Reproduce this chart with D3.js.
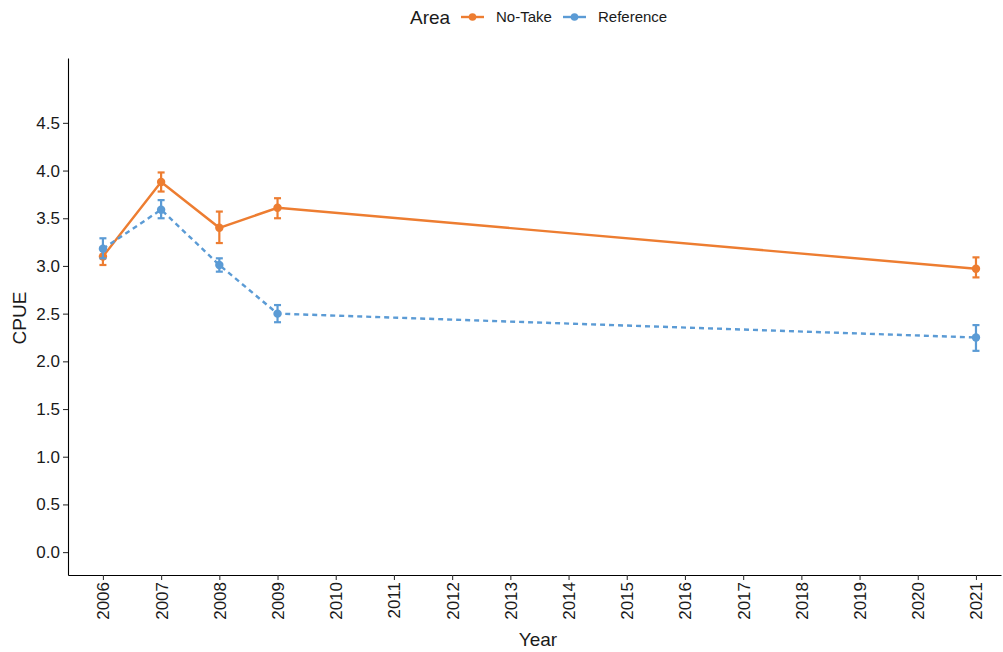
<!DOCTYPE html>
<html>
<head>
<meta charset="utf-8">
<script src="https://cdn.jsdelivr.net/npm/d3@7"></script>
<style>
body { margin: 0; background: #fff; font-family: "Liberation Sans", Arial, sans-serif; }
</style>
</head>
<body>
<div id="chart"></div>
<script>
// data
var years = [2006, 2007, 2008, 2009, 2021];
var yearTicks = d3.range(2006, 2022);
var yTicks = [0, 0.5, 1, 1.5, 2, 2.5, 3, 3.5, 4, 4.5];

var noTake = [3.10, 3.88, 3.40, 3.61, 2.97];
var noTakeLo = [3.01, 3.78, 3.24, 3.50, 2.88];
var noTakeHi = [3.19, 3.98, 3.57, 3.71, 3.09];

var reference = [3.18, 3.59, 3.01, 2.50, 2.25];
var referenceLo = [3.08, 3.50, 2.94, 2.41, 2.11];
var referenceHi = [3.29, 3.69, 3.08, 2.59, 2.38];

var series = [
    {name: "No-Take", color: "#ED7D31", dash: null, v: noTake, lo: noTakeLo, hi: noTakeHi},
    {name: "Reference", color: "#5B9BD5", dash: "5,4", v: reference, lo: referenceLo, hi: referenceHi}
];

var width = 1003, height = 652;
var svg = d3.select("#chart").append("svg")
    .attr("width", width).attr("height", height);

var mLeft = 68, mRight = 1001, mTop = 58, mBottom = 575;

var x = d3.scaleLinear().domain([2005.4, 2021.43]).range([mLeft, mRight]);
var y = d3.scaleLinear().domain([-0.24, 5.18]).range([mBottom, mTop]);

// axes
var xAxis = svg.append("g")
    .attr("transform", "translate(0," + mBottom + ")")
    .call(d3.axisBottom(x).tickValues(yearTicks).tickFormat(d3.format("d")).tickSize(5).tickSizeOuter(0));

var yAxis = svg.append("g")
    .attr("transform", "translate(" + mLeft + ",0)")
    .call(d3.axisLeft(y).tickValues(yTicks).tickFormat(d3.format(".1f")).tickSize(5).tickSizeOuter(0));

[xAxis, yAxis].forEach(function(a) {
    a.select(".domain").attr("stroke", "#000").attr("stroke-width", 1.1);
    a.selectAll(".tick line").attr("stroke", "#333").attr("stroke-width", 1.1);
    a.selectAll(".tick text").attr("fill", "#1a1a1a").style("font-size", "17px")
        .style("font-family", "Liberation Sans, Arial, sans-serif");
});
yAxis.selectAll(".tick text").attr("x", -8);
xAxis.selectAll(".tick text")
    .attr("transform", "rotate(-90)")
    .attr("text-anchor", "end")
    .attr("x", -7).attr("y", 0).attr("dy", "0.35em");

svg.append("text").attr("x", 538).attr("y", 646).attr("text-anchor", "middle")
    .style("font-size", "19px").attr("fill", "#1a1a1a").text("Year");
svg.append("text").attr("transform", "translate(26,318) rotate(-90)").attr("text-anchor", "middle")
    .style("font-size", "19px").attr("fill", "#1a1a1a").text("CPUE");

// lines, error bars, points
var line = d3.line().x(function(d) { return x(d[0]); }).y(function(d) { return y(d[1]); });

series.forEach(function(s) {
    var pts = years.map(function(yr, i) { return [yr, s.v[i]]; });
    svg.append("path").datum(pts)
        .attr("d", line)
        .attr("fill", "none")
        .attr("stroke", s.color)
        .attr("stroke-width", 2.4)
        .attr("stroke-dasharray", s.dash);

    var g = svg.append("g").attr("stroke", s.color).attr("stroke-width", 2.2);
    years.forEach(function(yr, i) {
        var cx = x(yr);
        g.append("line").attr("x1", cx).attr("x2", cx).attr("y1", y(s.lo[i])).attr("y2", y(s.hi[i]));
        g.append("line").attr("x1", cx - 3.5).attr("x2", cx + 3.5).attr("y1", y(s.lo[i])).attr("y2", y(s.lo[i]));
        g.append("line").attr("x1", cx - 3.5).attr("x2", cx + 3.5).attr("y1", y(s.hi[i])).attr("y2", y(s.hi[i]));
    });

    svg.append("g").selectAll("circle").data(pts).enter().append("circle")
        .attr("cx", function(d) { return x(d[0]); })
        .attr("cy", function(d) { return y(d[1]); })
        .attr("r", 4.2)
        .attr("fill", s.color);
});

// legend
var legend = svg.append("g");
legend.append("text").attr("x", 410).attr("y", 24).style("font-size", "19px").attr("fill", "#1a1a1a").text("Area");
var legX = [461, 563];
var legTextX = [496, 598];
series.forEach(function(s, i) {
    legend.append("line").attr("x1", legX[i]).attr("x2", legX[i] + 23).attr("y1", 17).attr("y2", 17)
        .attr("stroke", s.color).attr("stroke-width", 2.4);
    legend.append("circle").attr("cx", legX[i] + 11.5).attr("cy", 17).attr("r", 3.8).attr("fill", s.color);
    legend.append("text").attr("x", legTextX[i]).attr("y", 22).style("font-size", "15px")
        .attr("fill", "#1a1a1a").text(s.name);
});
</script>
</body>
</html>
